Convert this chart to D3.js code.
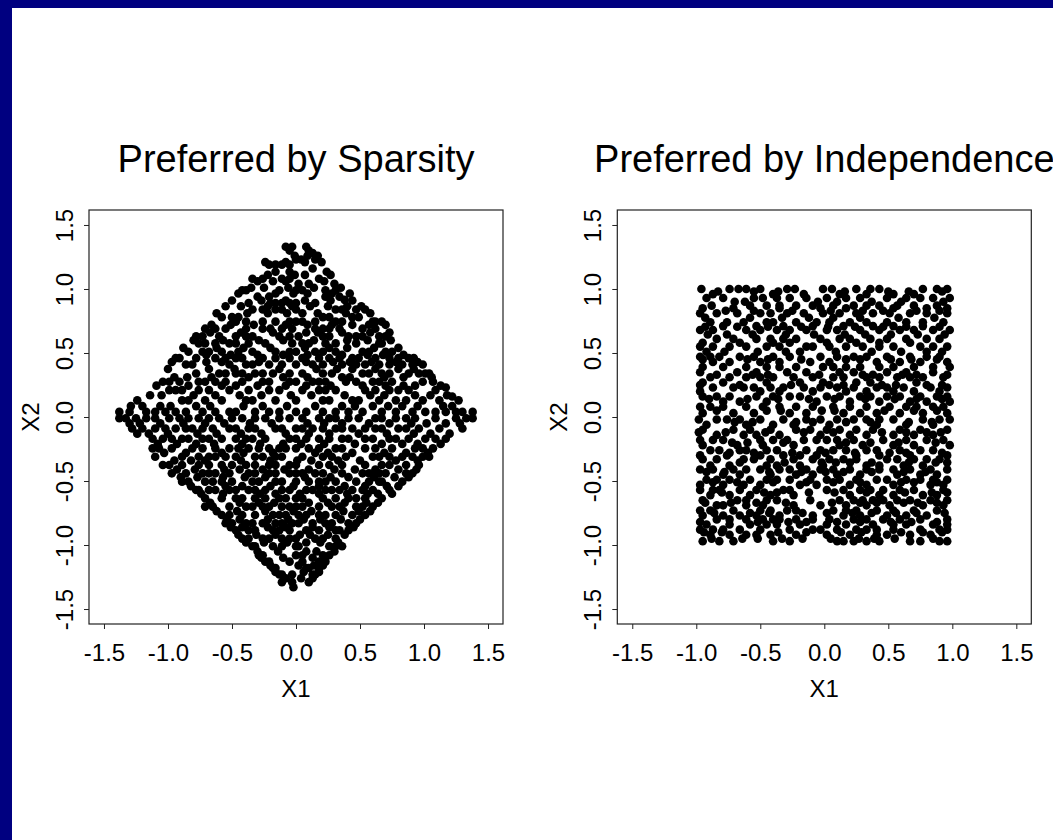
<!DOCTYPE html>
<html>
<head>
<meta charset="utf-8">
<script src="https://cdn.jsdelivr.net/npm/d3@7"></script>
<style>
  body { margin: 0; overflow: hidden; background: #fff; }
  text { font-family: "Liberation Sans", Arial, Helvetica, sans-serif; fill: #000; }
</style>
</head>
<body>
<script>
var W = 1053, H = 840;

var tickValues = [-1.5, -1.0, -0.5, 0.0, 0.5, 1.0, 1.5];
var tickLabels = ["-1.5", "-1.0", "-0.5", "0.0", "0.5", "1.0", "1.5"];
var titles = ["Preferred by Sparsity", "Preferred by Independence"];
var xLabel = "X1", yLabel = "X2";

// points, one row per X2 level: [x2, [x1, x1, ...]]
var sparsityRows = [
  [1.33, [-0.08, -0.03, 0.08]],
  [1.30, [-0.05, 0.10]],
  [1.28, [0.13]],
  [1.26, [-0.01, 0.09, 0.17]],
  [1.23, [0.00, 0.04, 0.15]],
  [1.21, [-0.24, -0.08, 0.07, 0.20]],
  [1.19, [-0.21, -0.16, -0.11, -0.05]],
  [1.16, [0.13]],
  [1.135, [-0.16, -0.05, 0.24]],
  [1.11, [-0.22, -0.01, 0.07, 0.27]],
  [1.08, [-0.34, -0.26, -0.11, -0.05, 0.18]],
  [1.06, [-0.30, -0.18, -0.08, 0.22]],
  [1.04, [0.02, 0.10, 0.30]],
  [1.01, [-0.35, -0.25, -0.06, 0.14, 0.35]],
  [0.99, [-0.42, -0.39, -0.13, 0.00, 0.05, 0.23, 0.31]],
  [0.965, [-0.45, -0.16, -0.02, 0.09, 0.28, 0.42]],
  [0.94, [-0.30, -0.21, 0.23, 0.34]],
  [0.915, [0.38]],
  [0.91, [-0.50, -0.27, -0.08, 0.07, 0.27, 0.44]],
  [0.89, [-0.37, -0.20, -0.16, -0.11, -0.05, 0.00, 0.15]],
  [0.865, [-0.55, -0.43, -0.22, -0.03, 0.11, 0.25, 0.40, 0.51]],
  [0.84, [-0.34, -0.26, -0.16, -0.11, 0.00, 0.31, 0.36, 0.47, 0.54]],
  [0.81, [-0.62, -0.38, -0.22, -0.07, 0.05, 0.17, 0.39, 0.58]],
  [0.78, [-0.58, -0.50, -0.45, 0.21, 0.26, 0.44, 0.49]],
  [0.745, [-0.47, -0.39, -0.26, -0.16, -0.05, 0.00, 0.05, 0.15, 0.31, 0.36, 0.60, 0.62, 0.67]],
  [0.72, [-0.66, -0.51, -0.33, -0.08, 0.09, 0.28, 0.44, 0.57, 0.70]],
  [0.69, [-0.71, -0.63, -0.55, -0.39, -0.26, -0.20, -0.11, -0.03, 0.15, 0.21, 0.26, 0.34, 0.52, 0.62]],
  [0.66, [-0.67, -0.43, -0.18, 0.08, 0.17, 0.36, 0.58, 0.73]],
  [0.63, [-0.78, -0.73, -0.60, -0.47, -0.39, -0.34, -0.13, -0.05, 0.02, 0.21, 0.26, 0.41, 0.47, 0.52, 0.65, 0.70]],
  [0.60, [-0.80, -0.57, -0.29, -0.10, 0.14, 0.40, 0.56, 0.74]],
  [0.575, [-0.76, -0.71, -0.63, -0.52, -0.47, -0.37, -0.24, -0.03, 0.05, 0.10, 0.23, 0.31, 0.47, 0.65, 0.67]],
  [0.54, [-0.88, -0.62, -0.41, -0.20, 0.07, 0.26, 0.40, 0.61, 0.80]],
  [0.51, [-0.84, -0.73, -0.68, -0.58, -0.45, -0.34, -0.16, -0.05, 0.00, 0.15, 0.21, 0.31, 0.52, 0.57, 0.70, 0.75]],
  [0.485, [-0.70, -0.51, -0.30, -0.10, 0.09, 0.36, 0.56, 0.68, 0.84]],
  [0.46, [-0.94, -0.91, -0.78, -0.63, -0.55, -0.47, -0.42, -0.26, -0.16, -0.05, 0.05, 0.18, 0.26, 0.34, 0.44, 0.49, 0.62, 0.73, 0.80, 0.88, 0.92]],
  [0.43, [-0.97, -0.70, -0.58, -0.29, 0.08, 0.29, 0.42, 0.59, 0.78, 0.95]],
  [0.41, [-0.86, -0.81, -0.52, -0.39, -0.34, -0.21, -0.11, 0.00, 0.13, 0.21, 0.36, 0.47, 0.54, 0.65, 0.73, 0.83, 0.91, 0.99]],
  [0.375, [-1.00, -0.68, -0.48, -0.13, 0.16, 0.32, 0.44, 0.62, 0.80, 0.92]],
  [0.34, [-0.78, -0.60, -0.55, -0.47, -0.42, -0.32, -0.26, -0.18, -0.05, 0.05, 0.21, 0.28, 0.52, 0.57, 0.67, 0.73, 0.88, 0.96, 1.01, 1.04]],
  [0.31, [-0.95, -0.85, -0.66, -0.37, -0.10, 0.09, 0.36, 0.42, 0.69, 0.84, 1.06]],
  [0.275, [-1.04, -0.99, -0.91, -0.76, -0.71, -0.63, -0.55, -0.42, -0.26, -0.21, -0.05, 0.00, 0.13, 0.18, 0.23, 0.39, 0.47, 0.60, 0.65, 0.75, 0.99, 1.07]],
  [0.245, [-1.09, -0.84, -0.58, -0.47, -0.30, -0.08, 0.08, 0.27, 0.52, 0.70, 0.84, 0.93, 1.13]],
  [0.23, [1.17]],
  [0.21, [-0.99, -0.94, -0.89, -0.76, -0.68, -0.52, -0.37, -0.21, -0.13, 0.05, 0.18, 0.23, 0.31, 0.54, 0.62, 0.73, 0.80, 0.88, 1.09]],
  [0.17, [-1.14, -1.05, -0.80, -0.63, -0.44, -0.27, -0.04, 0.12, 0.38, 0.58, 0.69, 0.93, 1.05, 1.18]],
  [0.16, [1.22]],
  [0.13, [-1.24, -0.89, -0.84, -0.71, -0.58, -0.39, -0.34, -0.16, 0.00, 0.21, 0.26, 0.44, 0.49, 0.65, 0.78, 0.86, 0.99, 1.12, 1.27]],
  [0.085, [-1.29, -1.20, -1.06, -0.98, -0.78, -0.67, -0.41, -0.26, -0.07, 0.15, 0.36, 0.46, 0.60, 0.72, 0.83, 0.95, 1.15, 1.22]],
  [0.04, [-1.38, -1.30, -1.17, -1.10, -1.02, -0.94, -0.86, -0.73, -0.63, -0.52, -0.47, -0.32, -0.21, -0.13, 0.00, 0.08, 0.21, 0.31, 0.41, 0.52, 0.67, 0.78, 0.91, 1.01, 1.09, 1.17, 1.25, 1.30, 1.38]],
  [-0.01, [-1.38, -1.33, -1.25, -1.17, -1.10, -0.99, -0.91, -0.84, -0.76, -0.68, -0.60, -0.50, -0.42, -0.32, -0.24, -0.13, -0.05, 0.05, 0.18, 0.26, 0.31, 0.41, 0.49, 0.62, 0.67, 0.78, 0.86, 0.93, 1.09, 1.25, 1.33, 1.38]],
  [-0.05, [-1.30, -1.22, -1.06, -0.88, -0.71, -0.56, -0.36, -0.19, 0.09, 0.22, 0.36, 0.57, 0.73, 0.90, 1.02, 1.17, 1.28]],
  [-0.09, [-1.28, -1.20, -1.10, -1.02, -0.94, -0.86, -0.81, -0.73, -0.65, -0.52, -0.47, -0.37, -0.32, -0.16, -0.11, 0.00, 0.05, 0.13, 0.21, 0.31, 0.36, 0.44, 0.54, 0.62, 0.67, 0.80, 0.86, 0.96, 1.12, 1.30]],
  [-0.13, [-1.24, -1.15, -1.00, -0.77, -0.62, -0.43, -0.27, -0.08, 0.10, 0.26, 0.49, 0.71, 0.92, 1.05, 1.20]],
  [-0.17, [-1.12, -1.04, -0.97, -0.89, -0.84, -0.73, -0.68, -0.58, -0.47, -0.39, -0.34, -0.24, -0.05, 0.00, 0.08, 0.18, 0.26, 0.36, 0.41, 0.54, 0.60, 0.73, 0.78, 0.88, 1.01, 1.09, 1.17]],
  [-0.21, [-1.08, -0.93, -0.78, -0.64, -0.42, -0.28, -0.10, 0.04, 0.22, 0.46, 0.67, 0.83, 0.95, 1.13]],
  [-0.245, [-1.12, -1.07, -0.97, -0.81, -0.73, -0.63, -0.52, -0.45, -0.37, -0.29, -0.21, -0.13, -0.08, 0.00, 0.10, 0.18, 0.31, 0.36, 0.54, 0.62, 0.75, 0.93, 0.99, 1.07]],
  [-0.28, [-1.03, -0.86, -0.58, -0.41, -0.18, 0.15, 0.25, 0.44, 0.69, 0.86, 1.03]],
  [-0.31, [-1.10, -0.89, -0.76, -0.68, -0.63, -0.55, -0.47, -0.32, -0.26, -0.16, -0.11, 0.05, 0.21, 0.28, 0.39, 0.60, 0.65, 0.73, 0.83, 0.91, 0.99, 1.04]],
  [-0.34, [-0.95, -0.82, -0.71, -0.43, -0.20, 0.01, 0.12, 0.33, 0.50, 0.78, 0.95]],
  [-0.375, [-1.04, -0.99, -0.89, -0.76, -0.68, -0.58, -0.50, -0.39, -0.32, -0.21, -0.16, -0.05, 0.00, 0.18, 0.26, 0.36, 0.54, 0.67, 0.73, 0.86, 0.96]],
  [-0.41, [-0.93, -0.79, -0.56, -0.44, -0.26, -0.09, 0.10, 0.30, 0.46, 0.62, 0.80, 0.94]],
  [-0.44, [-0.97, -0.86, -0.73, -0.68, -0.63, -0.52, -0.37, -0.32, -0.21, -0.16, -0.05, 0.00, 0.05, 0.15, 0.21, 0.36, 0.52, 0.57, 0.65, 0.70, 0.86, 0.91]],
  [-0.47, [-0.90, -0.77, -0.57, -0.40, -0.24, 0.07, 0.27, 0.41, 0.61, 0.77, 0.88]],
  [-0.505, [-0.89, -0.84, -0.71, -0.65, -0.58, -0.50, -0.34, -0.29, -0.16, -0.11, 0.00, 0.10, 0.18, 0.23, 0.31, 0.47, 0.57, 0.65, 0.67, 0.83]],
  [-0.54, [-0.82, -0.55, -0.42, -0.20, -0.02, 0.18, 0.38, 0.54, 0.71, 0.80]],
  [-0.57, [-0.78, -0.76, -0.68, -0.63, -0.52, -0.47, -0.37, -0.32, -0.24, -0.11, -0.05, 0.08, 0.13, 0.23, 0.28, 0.34, 0.44, 0.52, 0.60, 0.73]],
  [-0.60, [-0.74, -0.57, -0.28, -0.16, 0.03, 0.18, 0.40, 0.56, 0.64, 0.75]],
  [-0.635, [-0.71, -0.58, -0.47, -0.42, -0.32, -0.24, -0.13, -0.08, 0.00, 0.05, 0.21, 0.31, 0.41, 0.47, 0.54, 0.67]],
  [-0.67, [-0.67, -0.44, -0.29, -0.17, 0.10, 0.25, 0.38, 0.55, 0.64]],
  [-0.70, [-0.71, -0.65, -0.52, -0.39, -0.34, -0.26, -0.21, -0.11, -0.05, 0.00, 0.05, 0.18, 0.28, 0.34, 0.47, 0.52, 0.60]],
  [-0.735, [-0.62, -0.46, -0.24, -0.02, 0.12, 0.37, 0.49, 0.58]],
  [-0.766, [-0.58, -0.52, -0.42, -0.32, -0.18, -0.13, -0.08, 0.02, 0.08, 0.18, 0.23, 0.31, 0.44, 0.54]],
  [-0.80, [-0.54, -0.44, -0.22, -0.06, 0.06, 0.19, 0.35, 0.50]],
  [-0.83, [-0.55, -0.50, -0.39, -0.34, -0.26, -0.16, -0.11, -0.03, 0.02, 0.13, 0.23, 0.28, 0.41, 0.47]],
  [-0.86, [-0.51, -0.42, -0.22, -0.08, 0.13, 0.26, 0.45]],
  [-0.885, [-0.47, -0.37, -0.32, -0.18, -0.13, -0.05, 0.08, 0.18, 0.31, 0.34, 0.41]],
  [-0.92, [-0.45, -0.31, -0.16, 0.03, 0.11, 0.25, 0.38]],
  [-0.95, [-0.42, -0.37, -0.26, -0.21, -0.11, -0.05, 0.00, 0.15, 0.21, 0.31]],
  [-0.98, [-0.39, -0.25, -0.07, 0.08, 0.19, 0.33]],
  [-1.01, [-0.34, -0.32, -0.18, -0.11, 0.00, 0.02, 0.26, 0.31, 0.36]],
  [-1.05, [-0.30, -0.14, 0.08, 0.16, 0.30]],
  [-1.08, [-0.29, -0.26, 0.00, 0.05, 0.21, 0.26]],
  [-1.10, [-0.27, -0.10, 0.13]],
  [-1.13, [-0.24, -0.21, -0.05, 0.05, 0.18, 0.23]],
  [-1.16, [-0.20, 0.02, 0.14, 0.21]],
  [-1.18, [-0.18, -0.16, 0.08, 0.10, 0.18]],
  [-1.21, [-0.16, 0.06, 0.18]],
  [-1.23, [-0.13, -0.11, -0.03, 0.13, 0.15]],
  [-1.26, [-0.08, 0.04, 0.13]],
  [-1.29, [-0.11, -0.03, 0.10]],
  [-1.33, [-0.02]]
];

var independenceRows = [
  [1.00, [-0.96, -0.74, -0.67, -0.61, -0.50, -0.29, -0.23, -0.01, 0.06, 0.25, 0.36, 0.43, 0.77, 0.88, 0.96]],
  [0.98, [-0.83, -0.55, -0.36, 0.16, 0.50, 0.66, 0.92]],
  [0.96, [-0.87, -0.40, -0.16, 0.12, 0.33, 0.54, 0.70]],
  [0.93, [-0.92, -0.79, -0.55, -0.48, -0.37, -0.27, -0.14, 0.02, 0.17, 0.28, 0.49, 0.64, 0.75, 0.85, 0.98]],
  [0.90, [-0.70, -0.62, -0.05, 0.10, 0.37, 0.60, 0.93]],
  [0.87, [-0.88, -0.58, -0.45, -0.35, -0.22, -0.09, 0.07, 0.23, 0.33, 0.43, 0.57, 0.70, 0.88]],
  [0.85, [-0.95, -0.71, -0.35, -0.03, 0.17, 0.54, 0.80, 0.96]],
  [0.83, [-0.77, -0.55, -0.25, 0.05, 0.30, 0.46, 0.72, 0.90]],
  [0.81, [-0.97, -0.84, -0.68, -0.50, -0.42, -0.29, -0.16, -0.01, 0.12, 0.25, 0.38, 0.51, 0.67, 0.80, 0.96]],
  [0.775, [-0.93, -0.58, -0.33, -0.12, 0.07, 0.28, 0.58, 0.86]],
  [0.74, [-0.89, -0.76, -0.63, -0.45, -0.40, -0.22, -0.06, 0.04, 0.20, 0.33, 0.49, 0.64, 0.77, 0.93]],
  [0.71, [-0.79, -0.53, -0.32, -0.09, 0.15, 0.38, 0.54, 0.77]],
  [0.705, [-0.93, -0.68, -0.44, -0.18, 0.03, 0.24, 0.46, 0.64, 0.90]],
  [0.68, [-0.97, -0.87, -0.61, -0.50, -0.37, -0.27, -0.14, 0.02, 0.10, 0.28, 0.43, 0.59, 0.70, 0.85, 0.98]],
  [0.645, [-0.91, -0.76, -0.56, -0.30, -0.08, 0.16, 0.32, 0.52, 0.73, 0.94]],
  [0.61, [-0.84, -0.71, -0.53, -0.42, -0.32, -0.22, -0.03, 0.12, 0.20, 0.36, 0.49, 0.64, 0.80, 0.90]],
  [0.58, [-0.95, -0.66, -0.40, -0.27, 0.02, 0.25, 0.43, 0.67]],
  [0.55, [-0.97, -0.87, -0.74, -0.61, -0.45, -0.35, -0.14, -0.09, 0.04, 0.17, 0.30, 0.43, 0.54, 0.75, 0.85, 0.96]],
  [0.51, [-0.92, -0.78, -0.52, -0.30, -0.19, 0.09, 0.37, 0.60, 0.80, 0.92]],
  [0.47, [-0.97, -0.89, -0.82, -0.66, -0.55, -0.40, -0.27, -0.03, 0.10, 0.23, 0.33, 0.49, 0.67, 0.80, 0.90]],
  [0.45, [-0.95, -0.60, -0.44, -0.18, 0.17, 0.28, 0.52, 0.68, 0.88]],
  [0.43, [-0.87, -0.74, -0.50, -0.35, -0.11, 0.04, 0.41, 0.59, 0.75, 0.96]],
  [0.39, [-0.95, -0.79, -0.61, -0.45, -0.35, -0.22, -0.01, 0.07, 0.17, 0.28, 0.43, 0.54, 0.70, 0.85, 0.98]],
  [0.35, [-0.97, -0.68, -0.53, -0.29, -0.14, 0.12, 0.23, 0.49, 0.64, 0.85]],
  [0.33, [-0.84, -0.56, -0.44, -0.04, 0.30, 0.38, 0.61, 0.72, 0.96]],
  [0.31, [-0.89, -0.74, -0.61, -0.50, -0.40, -0.24, -0.09, 0.07, 0.15, 0.33, 0.43, 0.57, 0.67, 0.77, 0.93]],
  [0.27, [-0.95, -0.79, -0.45, -0.19, -0.01, 0.25, 0.36, 0.72]],
  [0.25, [-0.97, -0.66, -0.26, 0.04, 0.15, 0.45, 0.56, 0.80, 0.92]],
  [0.23, [-0.87, -0.71, -0.63, -0.55, -0.42, -0.32, -0.16, -0.03, 0.10, 0.23, 0.41, 0.49, 0.62, 0.83, 0.96]],
  [0.20, [-0.97, -0.50, -0.35, -0.09, 0.17, 0.33, 0.54, 0.70, 0.90]],
  [0.16, [-0.95, -0.84, -0.74, -0.53, -0.40, -0.27, -0.19, 0.02, 0.12, 0.28, 0.36, 0.49, 0.59, 0.75, 0.88, 0.96]],
  [0.14, [-0.90, -0.60, -0.36, -0.12, 0.08, 0.32, 0.55, 0.72, 0.92]],
  [0.12, [-0.79, -0.66, -0.45, -0.06, 0.20, 0.43, 0.67, 0.80, 0.98]],
  [0.08, [-0.97, -0.89, -0.79, -0.61, -0.48, -0.35, -0.22, -0.09, 0.07, 0.20, 0.33, 0.51, 0.64, 0.72, 0.85, 0.93]],
  [0.05, [-0.84, -0.45, -0.34, -0.02, 0.08, 0.47, 0.70, 0.88]],
  [0.03, [-0.95, -0.71, -0.55, -0.27, -0.14, 0.15, 0.28, 0.41, 0.59, 0.77, 0.96]],
  [-0.02, [-0.98, -0.84, -0.76, -0.66, -0.50, -0.32, -0.14, -0.03, 0.10, 0.23, 0.33, 0.43, 0.54, 0.77, 0.90, 0.98]],
  [-0.04, [-0.70, -0.56, -0.22, -0.09, 0.17, 0.36, 0.66, 0.84]],
  [-0.06, [-0.92, -0.61, -0.40, -0.24, 0.04, 0.41, 0.64, 0.85]],
  [-0.10, [-0.95, -0.71, -0.58, -0.42, -0.22, -0.11, 0.02, 0.12, 0.25, 0.38, 0.59, 0.75, 0.96]],
  [-0.12, [-0.98, -0.77, -0.46, -0.16, 0.07, 0.45, 0.64, 0.80, 0.91]],
  [-0.14, [-0.84, -0.63, -0.53, -0.35, -0.03, 0.20, 0.33, 0.54, 0.70, 0.85]],
  [-0.18, [-0.97, -0.87, -0.79, -0.50, -0.40, -0.29, -0.16, -0.06, 0.02, 0.10, 0.23, 0.46, 0.64, 0.80, 0.93]],
  [-0.20, [-0.72, -0.60, -0.32, 0.17, 0.36, 0.58, 0.87]],
  [-0.22, [-0.95, -0.68, -0.48, -0.24, 0.12, 0.30, 0.54, 0.70, 0.98]],
  [-0.26, [-0.89, -0.82, -0.66, -0.61, -0.45, -0.37, -0.14, -0.03, 0.07, 0.17, 0.33, 0.41, 0.59, 0.75, 0.85]],
  [-0.28, [-0.74, -0.55, -0.25, 0.01, 0.24, 0.51, 0.64, 0.92]],
  [-0.30, [-0.97, -0.76, -0.50, -0.32, -0.19, -0.06, 0.25, 0.43, 0.67, 0.96]],
  [-0.33, [-0.95, -0.84, -0.63, -0.55, -0.42, -0.24, -0.09, 0.04, 0.15, 0.25, 0.49, 0.57, 0.70, 0.80, 0.90]],
  [-0.355, [-0.66, -0.31, -0.02, 0.09, 0.20, 0.37, 0.66, 0.87, 0.96]],
  [-0.38, [-0.89, -0.74, -0.45, -0.37, -0.19, -0.01, 0.33, 0.43, 0.62, 0.77]],
  [-0.41, [-0.97, -0.87, -0.71, -0.61, -0.50, -0.35, -0.27, -0.14, -0.03, 0.07, 0.20, 0.33, 0.43, 0.54, 0.67, 0.83, 0.96]],
  [-0.43, [-0.92, -0.78, -0.43, -0.18, 0.01, 0.15, 0.37, 0.62, 0.79]],
  [-0.45, [-0.79, -0.66, -0.42, -0.22, -0.09, 0.10, 0.28, 0.57, 0.75, 0.88]],
  [-0.49, [-0.92, -0.84, -0.74, -0.58, -0.45, -0.37, -0.27, -0.11, 0.02, 0.12, 0.25, 0.41, 0.49, 0.64, 0.75, 0.85, 0.96]],
  [-0.51, [-0.87, -0.68, -0.40, -0.14, 0.07, 0.28, 0.60, 0.70, 0.88]],
  [-0.53, [-0.97, -0.79, -0.63, -0.50, -0.19, -0.06, 0.20, 0.33, 0.54, 0.83, 0.93]],
  [-0.57, [-0.97, -0.87, -0.82, -0.66, -0.53, -0.32, -0.27, 0.02, 0.15, 0.28, 0.36, 0.46, 0.59, 0.70, 0.93]],
  [-0.59, [-0.80, -0.47, -0.37, -0.12, 0.08, 0.33, 0.63, 0.84, 0.96]],
  [-0.61, [-0.89, -0.74, -0.58, -0.42, -0.24, 0.20, 0.43, 0.54, 0.77, 0.88]],
  [-0.65, [-0.95, -0.68, -0.61, -0.45, -0.37, -0.11, 0.12, 0.23, 0.30, 0.38, 0.46, 0.57, 0.67, 0.83, 0.96]],
  [-0.67, [-0.93, -0.73, -0.53, -0.30, 0.06, 0.28, 0.41, 0.62, 0.73, 0.88]],
  [-0.69, [-0.84, -0.79, -0.61, -0.48, -0.24, -0.03, 0.17, 0.33, 0.51, 0.77, 0.93]],
  [-0.73, [-0.97, -0.89, -0.71, -0.50, -0.42, -0.29, -0.22, 0.07, 0.17, 0.25, 0.41, 0.54, 0.70, 0.88]],
  [-0.75, [-0.86, -0.58, -0.43, -0.17, 0.02, 0.22, 0.37, 0.56, 0.72, 0.94]],
  [-0.77, [-0.95, -0.79, -0.66, -0.53, -0.35, -0.09, 0.15, 0.28, 0.49, 0.64, 0.80]],
  [-0.80, [-0.84, -0.74, -0.61, -0.48, -0.40, -0.35, -0.22, -0.09, 0.04, 0.23, 0.33, 0.46, 0.59, 0.75, 0.96]],
  [-0.82, [-0.97, -0.52, -0.28, -0.14, 0.10, 0.28, 0.52, 0.68, 0.88]],
  [-0.84, [-0.92, -0.74, -0.58, -0.45, -0.37, -0.19, 0.02, 0.17, 0.38, 0.54, 0.64, 0.85, 0.96]],
  [-0.88, [-0.97, -0.87, -0.79, -0.66, -0.50, -0.27, -0.09, -0.03, 0.10, 0.25, 0.33, 0.41, 0.54, 0.75, 0.90, 0.96]],
  [-0.90, [-0.94, -0.80, -0.36, -0.14, 0.13, 0.29, 0.60, 0.77, 0.92]],
  [-0.92, [-0.89, -0.74, -0.61, -0.53, -0.42, -0.22, 0.02, 0.20, 0.41, 0.49, 0.67, 0.83]],
  [-0.95, [-0.88, -0.64, -0.52, -0.33, -0.17, 0.05, 0.27, 0.39, 0.55, 0.85]],
  [-0.97, [-0.95, -0.82, -0.71, -0.40, -0.27, 0.10, 0.15, 0.23, 0.33, 0.43, 0.67, 0.75, 0.90, 0.96]]
];

function toPoints(rows) {
  var pts = [];
  rows.forEach(function(r) {
    r[1].forEach(function(x) { pts.push([x, r[0]]); });
  });
  return pts;
}

var svg = d3.select("body").append("svg")
  .attr("width", W)
  .attr("height", H);

// slide frame: navy band on top and left
svg.append("rect").attr("width", W).attr("height", H).attr("fill", "#000080");
svg.append("rect").attr("x", 12).attr("y", 8).attr("width", W - 12).attr("height", H - 8).attr("fill", "#fff");

var size = 414;
var lim = 1.617;
var panels = [
  { left: 89, top: 210, rows: sparsityRows, title: titles[0] },
  { left: 617.3, top: 210, rows: independenceRows, title: titles[1] }
];

panels.forEach(function(p) {
  var x = d3.scaleLinear().domain([-lim, lim]).range([0, size]);
  var y = d3.scaleLinear().domain([-lim, lim]).range([size, 0]);
  var g = svg.append("g").attr("transform", "translate(" + p.left + "," + p.top + ")");

  g.selectAll("circle")
    .data(toPoints(p.rows))
    .enter()
    .append("circle")
    .attr("cx", function(d) { return x(d[0]); })
    .attr("cy", function(d) { return y(d[1]); })
    .attr("r", 4.3)
    .attr("fill", "#000");

  // bottom axis
  var xa = g.append("g")
    .attr("transform", "translate(0," + size + ")")
    .call(d3.axisBottom(x).tickValues(tickValues)
      .tickFormat(function(d, i) { return tickLabels[i]; })
      .tickSize(5).tickPadding(15));
  xa.select(".domain").remove();
  xa.selectAll("text").attr("font-size", 24).attr("font-family", null);

  // left axis, labels turned sideways
  var ya = g.append("g")
    .call(d3.axisLeft(y).tickValues(tickValues)
      .tickFormat(function(d, i) { return tickLabels[i]; })
      .tickSize(5));
  ya.select(".domain").remove();
  ya.selectAll("text")
    .attr("font-size", 24)
    .attr("font-family", null)
    .attr("transform", "rotate(-90)")
    .attr("x", 0).attr("y", -16).attr("dy", null)
    .attr("text-anchor", "middle");

  xa.selectAll("line").attr("stroke", "#222");
  ya.selectAll("line").attr("stroke", "#222");

  g.append("rect")
    .attr("width", size).attr("height", size)
    .attr("fill", "none").attr("stroke", "#222").attr("stroke-width", 1.2);

  g.append("text")
    .attr("x", size / 2).attr("y", -38)
    .attr("text-anchor", "middle")
    .attr("font-size", 38)
    .text(p.title);

  g.append("text")
    .attr("x", size / 2).attr("y", size + 73)
    .attr("text-anchor", "middle")
    .attr("font-size", 24)
    .text(xLabel);

  g.append("text")
    .attr("transform", "translate(-50," + (size / 2) + ") rotate(-90)")
    .attr("text-anchor", "middle")
    .attr("font-size", 24)
    .text(yLabel);
});
</script>
</body>
</html>
